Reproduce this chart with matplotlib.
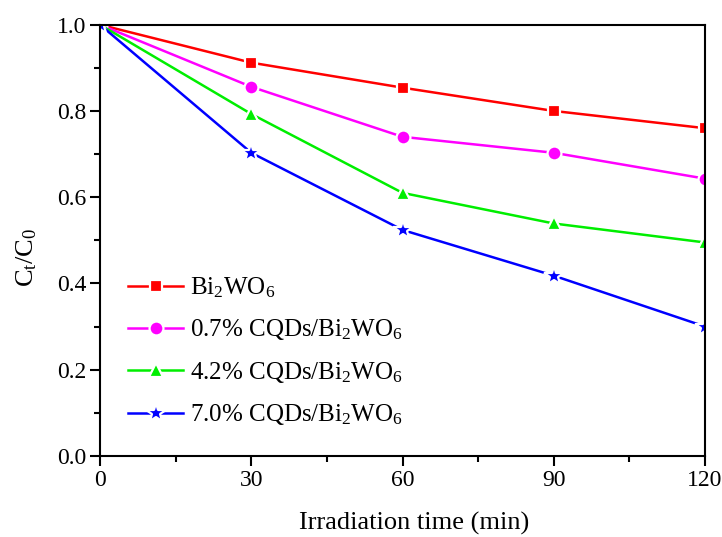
import numpy as np
import matplotlib
matplotlib.use("Agg")
import matplotlib.pyplot as plt
from matplotlib.ticker import MultipleLocator, FormatStrFormatter

plt.rcParams['font.family'] = ['Liberation Serif', 'DejaVu Serif']
plt.rcParams['mathtext.fontset'] = 'custom'
plt.rcParams['mathtext.rm'] = 'Liberation Serif'
plt.rcParams['mathtext.it'] = 'Liberation Serif'

time_min = [0, 30, 60, 90, 120]
c_bi2wo6 = [1.0, 0.912, 0.854, 0.800, 0.760]
c_07 = [1.0, 0.856, 0.740, 0.703, 0.643]
c_42 = [1.0, 0.793, 0.610, 0.539, 0.495]
c_70 = [1.0, 0.703, 0.524, 0.418, 0.300]

labels = ['Bi$_2$WO$_6$', '0.7% CQDs/Bi$_2$WO$_6$',
          '4.2% CQDs/Bi$_2$WO$_6$', '7.0% CQDs/Bi$_2$WO$_6$']
series = [c_bi2wo6, c_07, c_42, c_70]
colors = ['#ff0000', '#ff00ff', '#00ee00', '#0000ff']
markers = ['s', 'o', '^', '*']
sizes = [9, 10, 10.5, 15]

fig = plt.figure(figsize=(7.22, 5.37), dpi=100)
ax = fig.add_axes([0.1385, 0.151, 0.838, 0.803])

for y, lab, c, m, s in zip(series, labels, colors, markers, sizes):
    ax.plot(time_min, y, '-', color=c, lw=1.8, marker=m, ms=s,
            mfc=c, mec='white', mew=1.6, label=lab)

ax.set_xlim(0, 120)
ax.set_ylim(0, 1.0)
ax.xaxis.set_major_locator(MultipleLocator(30))
ax.xaxis.set_minor_locator(MultipleLocator(15))
ax.yaxis.set_major_locator(MultipleLocator(0.2))
ax.yaxis.set_minor_locator(MultipleLocator(0.1))
ax.yaxis.set_major_formatter(FormatStrFormatter('%.1f'))
ax.tick_params(which='major', direction='out', length=7, width=1.5,
               labelsize=17, top=False, right=False, pad=3)
ax.tick_params(which='minor', direction='out', length=4, width=1.5,
               top=False, right=False)
for sp in ax.spines.values():
    sp.set_linewidth(1.5)

ax.set_xlabel('Irradiation time (min)', fontsize=19, labelpad=12)
ax.xaxis.set_label_coords(0.52, -0.13)
ax.set_ylabel('C$_t$/C$_0$', fontsize=19)
ax.yaxis.set_label_coords(-0.1, 0.46)

ax.legend(loc='lower left', bbox_to_anchor=(0.047, 0.066), frameon=False,
          fontsize=18, handlelength=2.2, handletextpad=0.25,
          labelspacing=0.7, borderaxespad=0, borderpad=0)

fig.savefig('out.png', dpi=100)
